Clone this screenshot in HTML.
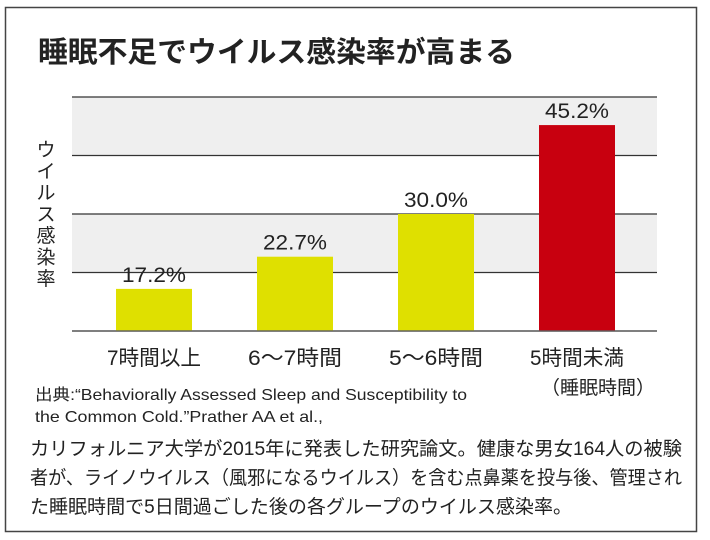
<!DOCTYPE html>
<html><head><meta charset="utf-8"><style>
html,body{margin:0;padding:0;background:#fff;}
svg{display:block;font-family:"Liberation Sans","Noto Sans CJK JP",sans-serif;}
</style></head><body>
<svg width="710" height="540" viewBox="0 0 710 540">
<rect x="5.5" y="7.5" width="691" height="524" fill="#fff" stroke="#444" stroke-width="1.5"/>
<text x="38" y="62" font-size="29" font-weight="bold" fill="#222" textLength="477" lengthAdjust="spacingAndGlyphs">睡眠不足でウイルス感染率が高まる</text>
<g id="bands"></g>
<g id="grid"></g>
<g id="bars"></g>
<g id="yl"></g>
<text x="598" y="394" font-size="19" fill="#222" text-anchor="middle">（睡眠時間）</text>
<text x="35" y="400" font-size="16" fill="#222" textLength="432" lengthAdjust="spacingAndGlyphs">出典:“Behaviorally Assessed Sleep and Susceptibility to</text>
<text x="35" y="422" font-size="16" fill="#222" textLength="288" lengthAdjust="spacingAndGlyphs">the Common Cold.”Prather AA et al.,</text>
<text x="30" y="455" font-size="19" fill="#222" textLength="652" lengthAdjust="spacingAndGlyphs">カリフォルニア大学が2015年に発表した研究論文。健康な男女164人の被験</text>
<text x="30" y="484" font-size="19" fill="#222" textLength="652" lengthAdjust="spacingAndGlyphs">者が、ライノウイルス（風邪になるウイルス）を含む点鼻薬を投与後、管理され</text>
<text x="30" y="513" font-size="19" fill="#222" textLength="542" lengthAdjust="spacingAndGlyphs">た睡眠時間で5日間過ごした後の各グループのウイルス感染率。</text>
</svg>
<script>
const categories = ["7時間以上","6〜7時間","5〜6時間","5時間未満"];
const values = [17.2, 22.7, 30.0, 45.2];
const valueLabels = ["17.2%","22.7%","30.0%","45.2%"];
const gridTicks = [10,20,30,40,50];
const NS = "http://www.w3.org/2000/svg";
const x0 = 72, x1 = 657, yMin = 10, yMax = 50, yTop = 97, yBot = 331;
function y(v){ return yBot - (v - yMin) / (yMax - yMin) * (yBot - yTop); }
const bandLeft = 83.5, step = 141;
function xc(i){ return bandLeft + step * (i + 0.5); }
function mk(tag, attrs, parent){ const e = document.createElementNS(NS, tag); for (const k in attrs) e.setAttribute(k, attrs[k]); parent.appendChild(e); return e; }
const bands = document.getElementById('bands');
for (let i = 0; i < gridTicks.length - 1; i++) {
  if ((gridTicks.length - 2 - i) % 2 === 0) {
    const r = mk('rect', {x: x0, y: y(gridTicks[i+1]), width: x1 - x0, height: y(gridTicks[i]) - y(gridTicks[i+1]), fill: '#efefef'}, bands);
    
    
  }
}
const grid = document.getElementById('grid');
gridTicks.forEach(t => {
  const l = mk('line', {x1: x0, x2: x1, y1: y(t), y2: y(t), stroke: '#333', 'stroke-width': 1.3}, grid);
  
  
});
const bars = document.getElementById('bars');
const bw = 76;
values.forEach((v, i) => {
  const cx = xc(i);
  const r = mk('rect', {x: cx - bw/2, y: y(v), width: bw, height: y(yMin) - y(v) - 0.7, fill: i === 3 ? '#c8000f' : '#dfe000'}, bars);
  
  
  const t = mk('text', {x: cx, y: y(v) - 7, 'font-size': 21, fill: '#222', 'text-anchor': 'middle', textLength: 64, lengthAdjust: 'spacingAndGlyphs'}, bars);
  t.textContent = valueLabels[i];
  
  
  const c = mk('text', {x: cx, y: 365, 'font-size': 21, fill: '#222', 'text-anchor': 'middle', textLength: 94, lengthAdjust: 'spacingAndGlyphs'}, bars);
  c.textContent = categories[i];
  
  
});
const yl = document.getElementById('yl');
"ウイルス感染率".split('').forEach((ch, i) => {
  const t = mk('text', {x: 46, y: 156 + i * 21.5, 'font-size': 19, fill: '#222', 'text-anchor': 'middle'}, yl);
  t.textContent = ch;
  
  
});
</script>
</body></html>
